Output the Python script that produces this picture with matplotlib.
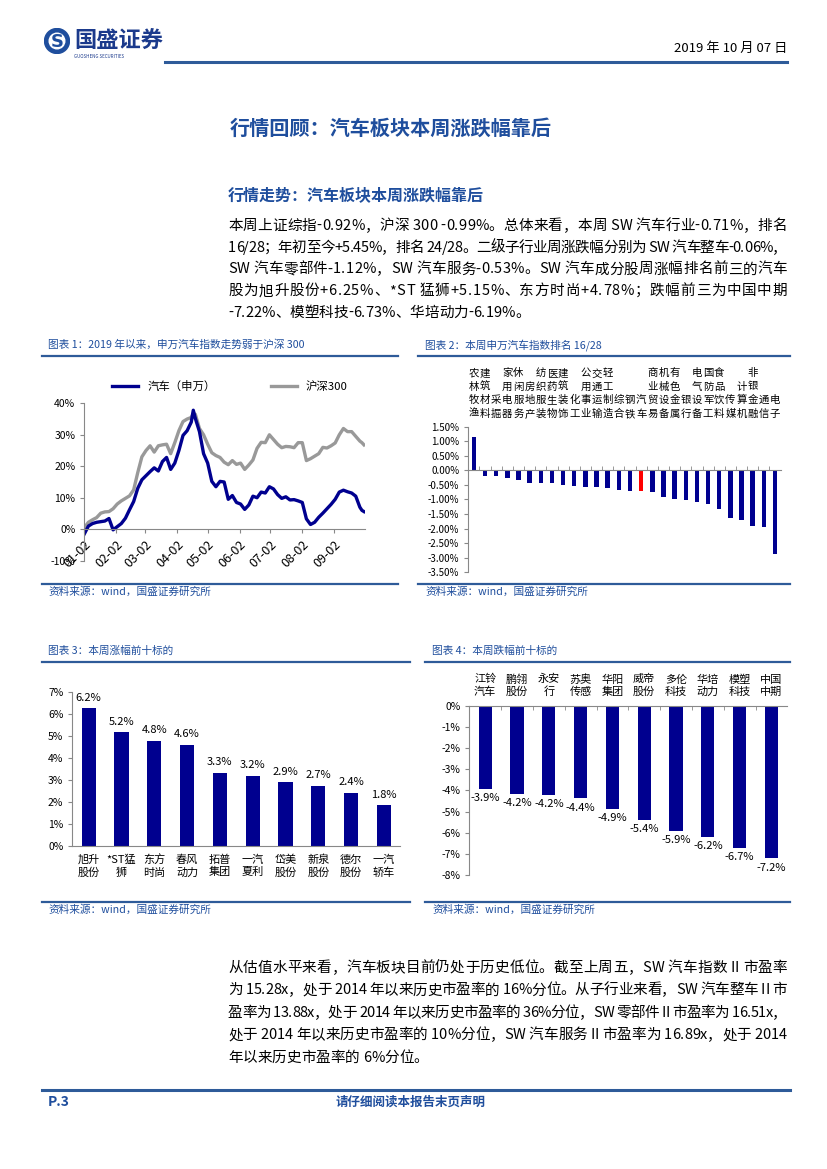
import matplotlib
matplotlib.use("Agg")
import matplotlib.pyplot as plt
import matplotlib.dates as mdates
import matplotlib.transforms as mtransforms
from matplotlib.lines import Line2D
from matplotlib.patches import Circle
from matplotlib.font_manager import FontProperties
import pandas as pd

plt.rcParams['font.family'] = ['Noto Sans CJK SC', 'DejaVu Sans']
plt.rcParams['axes.unicode_minus'] = False

# ---------------- data ----------------
# chart 1: index trend since 2019 (%)
dates = ['2019-01-02', '2019-01-06', '2019-01-10', '2019-01-14', '2019-01-18', '2019-01-22',
         '2019-01-26', '2019-01-30', '2019-02-03', '2019-02-07', '2019-02-11', '2019-02-15',
         '2019-02-19', '2019-02-23', '2019-02-27', '2019-03-03', '2019-03-07', '2019-03-11',
         '2019-03-15', '2019-03-19', '2019-03-23', '2019-03-27', '2019-03-31', '2019-04-04',
         '2019-04-08', '2019-04-12', '2019-04-16', '2019-04-18', '2019-04-20', '2019-04-24',
         '2019-04-28', '2019-05-02', '2019-05-06', '2019-05-10', '2019-05-14', '2019-05-18',
         '2019-05-22', '2019-05-26', '2019-05-30', '2019-06-03', '2019-06-07', '2019-06-11',
         '2019-06-15', '2019-06-19', '2019-06-23', '2019-06-27', '2019-07-01', '2019-07-05',
         '2019-07-09', '2019-07-13', '2019-07-17', '2019-07-21', '2019-07-25', '2019-07-29',
         '2019-08-02', '2019-08-06', '2019-08-10', '2019-08-14', '2019-08-18', '2019-08-22',
         '2019-08-26', '2019-08-30', '2019-09-03', '2019-09-07', '2019-09-11', '2019-09-15',
         '2019-09-19', '2019-09-23', '2019-09-27', '2019-09-29', '2019-10-01']
auto_sw = [-1.5, 1.0, 1.8, 2.2, 2.4, 2.6, 3.4, -0.2, 0.8, 1.8, 3.5, 6.2,
           8.8, 13.0, 15.7, 17.0, 18.3, 19.5, 18.5, 21.5, 22.8, 19.0, 21.0, 25.0,
           29.8, 31.3, 34.0, 37.8, 35.2, 31.0, 24.0, 21.0, 15.2, 13.5, 15.2, 15.0,
           9.5, 10.7, 8.5, 8.0, 6.3, 7.7, 10.5, 10.0, 11.8, 11.5, 13.5, 12.8,
           11.0, 9.8, 10.3, 9.3, 9.4, 9.0, 8.5, 3.3, 1.5, 2.2, 3.8, 5.1,
           6.5, 7.9, 9.5, 11.8, 12.4, 11.9, 11.5, 10.5, 7.0, 6.0, 5.6]
hs300 = [0.5, 2.2, 3.0, 3.7, 5.1, 5.5, 5.6, 6.5, 8.0, 9.0, 9.8, 10.6,
         12.5, 18.0, 23.0, 25.0, 26.5, 24.5, 26.5, 26.8, 27.0, 24.0, 27.5, 31.3,
         34.2, 35.0, 35.5, 36.8, 36.5, 32.0, 30.0, 27.0, 24.3, 23.4, 22.8, 21.3,
         20.5, 21.8, 20.6, 21.0, 19.0, 20.4, 22.0, 25.7, 27.6, 27.5, 30.0, 28.5,
         27.0, 25.9, 26.3, 26.2, 25.9, 27.5, 27.5, 21.8, 22.4, 23.2, 24.0, 26.0,
         25.8, 26.5, 27.4, 30.0, 32.0, 31.0, 31.0, 29.5, 28.0, 27.5, 26.8]
month_ticks = ['2019-01-02', '2019-02-02', '2019-03-02', '2019-04-02', '2019-05-02',
               '2019-06-02', '2019-07-02', '2019-08-02', '2019-09-02']

# chart 2: weekly change of SW industries (%)
industries = ['农林牧渔', '建筑材料', '采掘', '家用电器', '休闲服务', '房地产', '纺织服装',
              '医药生物', '建筑装饰', '化工', '公用事业', '交通运输', '轻工制造', '综合',
              '钢铁', '汽车', '商业贸易', '机械设备', '有色金属', '银行', '电气设备',
              '国防军工', '食品饮料', '传媒', '计算机', '非银金融', '通信', '电子']
industry_chg = [1.15, -0.18, -0.20, -0.27, -0.34, -0.42, -0.43, -0.44, -0.50, -0.55,
                -0.57, -0.57, -0.59, -0.68, -0.70, -0.71, -0.73, -0.90, -1.00, -1.01,
                -1.08, -1.15, -1.34, -1.64, -1.70, -1.91, -1.95, -2.86]
highlight = '汽车'

# chart 3: top 10 gainers (%)
gainers = ['旭升\n股份', '*ST猛\n狮', '东方\n时尚', '春风\n动力', '拓普\n集团',
           '一汽\n夏利', '岱美\n股份', '新泉\n股份', '德尔\n股份', '一汽\n轿车']
gainers_chg = [6.25, 5.15, 4.78, 4.58, 3.33, 3.19, 2.89, 2.72, 2.42, 1.84]

# chart 4: top 10 losers (%)
losers = ['江铃\n汽车', '鹏翎\n股份', '永安\n行', '苏奥\n传感', '华阳\n集团',
          '威帝\n股份', '多伦\n科技', '华培\n动力', '模塑\n科技', '中国\n中期']
losers_chg = [-3.92, -4.18, -4.21, -4.38, -4.88, -5.38, -5.93, -6.19, -6.73, -7.22]

para1 = ['本周上证综指-0.92%，沪深 300 -0.99%。总体来看，本周 SW 汽车行业-0.71%，排名',
         '16/28；年初至今+5.45%，排名 24/28。二级子行业周涨跌幅分别为 SW 汽车整车-0.06%，',
         'SW 汽车零部件-1.12%，SW 汽车服务-0.53%。SW 汽车成分股周涨幅排名前三的汽车',
         '股为旭升股份+6.25%、*ST 猛狮+5.15%、东方时尚+4.78%；跌幅前三为中国中期',
         '-7.22%、模塑科技-6.73%、华培动力-6.19%。']
para2 = ['从估值水平来看，汽车板块目前仍处于历史低位。截至上周五，SW 汽车指数 II 市盈率',
         '为 15.28x，处于 2014 年以来历史市盈率的 16%分位。从子行业来看，SW 汽车整车 II 市',
         '盈率为 13.88x，处于 2014 年以来历史市盈率的 36%分位，SW 零部件 II 市盈率为 16.51x，',
         '处于 2014 年以来历史市盈率的 10%分位，SW 汽车服务 II 市盈率为 16.89x，处于 2014',
         '年以来历史市盈率的 6%分位。']

# ---------------- page ----------------
W, H = 827, 1169
BAR = '#00008F'
HEAD = '#1F4E9D'
RULE = '#2E5B99'
AXC = '#888888'

fig = plt.figure(figsize=(W / 100, H / 100), dpi=100)
renderer = fig.canvas.get_renderer()


def px_axes(x0, y0, x1, y1):
    return fig.add_axes([x0 / W, 1 - y1 / H, (x1 - x0) / W, (y1 - y0) / H])


def ftext(x, y, s, **kw):
    return fig.text(x / W, 1 - y / H, s, **kw)


def hline(x0, x1, y, lw=1.6, color=RULE):
    fig.add_artist(Line2D([x0 / W, x1 / W], [1 - y / H, 1 - y / H], color=color, lw=lw))


def style_axes(ax):
    for s in ['top', 'right']:
        ax.spines[s].set_visible(False)
    for s in ['left', 'bottom']:
        ax.spines[s].set_color(AXC)
        ax.spines[s].set_linewidth(0.8)
    ax.tick_params(colors=AXC, labelcolor='black', width=0.8, length=3, labelsize=7.5)


def char_width(ch, prop):
    w2 = renderer.get_text_width_height_descent('|' + ch + '|', prop, ismath=False)[0]
    w0 = renderer.get_text_width_height_descent('||', prop, ismath=False)[0]
    return w2 - w0


def paragraph(lines, x0, x1, y0, step, size):
    # justified text, last line left aligned
    prop = FontProperties(family=['Noto Sans CJK SC', 'DejaVu Sans'], size=size)
    for k, line in enumerate(lines):
        widths = [char_width(ch, prop) for ch in line]
        if k < len(lines) - 1:
            gap = (x1 - x0 - sum(widths)) / (len(line) - 1)
        else:
            gap = 0
        x = x0
        y = y0 + k * step
        for ch, w in zip(line, widths):
            if ch != ' ':
                ftext(x, y, ch, fontproperties=prop, va='center')
            x += w + gap


# header
logo = px_axes(44, 28, 70, 54)
logo.set_xlim(0, 1)
logo.set_ylim(0, 1)
logo.set_aspect('equal')
logo.axis('off')
logo.add_patch(Circle((0.5, 0.5), 0.48, color='#1F4E9D'))
logo.add_patch(Circle((0.5, 0.5), 0.30, color='white'))
logo.text(0.5, 0.48, 'S', color='#1F4E9D', fontsize=13, fontweight='bold',
          ha='center', va='center', family='DejaVu Sans')
ftext(74, 41, '国盛证券', fontsize=16, fontweight='bold', color='#1B3A8C', va='center')
ftext(74, 56, 'GUOSHENG SECURITIES', fontsize=3.2, color='#1B3A8C', va='center')
ftext(787, 48, '2019 年 10 月 07 日', fontsize=9.5, ha='right', va='center')
hline(165, 787, 62, lw=2.2)

ftext(391, 128, '行情回顾：汽车板块本周涨跌幅靠后', fontsize=14.5, fontweight='bold',
      color=HEAD, ha='center', va='center')
ftext(228, 195, '行情走势：汽车板块本周涨跌幅靠后', fontsize=11.5, fontweight='bold',
      color=HEAD, va='center')
paragraph(para1, 228, 787, 226, 21.7, 10.5)
paragraph(para2, 228, 787, 968, 22.4, 10.5)

# captions / rules / sources
cap = dict(fontsize=7.7, color=HEAD, style='italic', va='center')
ftext(48, 345, '图表 1：2019 年以来，申万汽车指数走势弱于沪深 300', **cap)
ftext(425, 345, '图表 2：本周申万汽车指数排名 16/28', **cap)
ftext(48, 651, '图表 3：本周涨幅前十标的', **cap)
ftext(432, 651, '图表 4：本周跌幅前十标的', **cap)
hline(42, 398, 356)
hline(418, 790, 356)
hline(42, 410, 662)
hline(425, 790, 662)
hline(42, 398, 584)
hline(418, 790, 584)
hline(42, 410, 902)
hline(425, 790, 902)
for x, y in [(48, 592), (425, 592), (48, 910), (432, 910)]:
    ftext(x, y, '资料来源：wind，国盛证券研究所', **cap)

# footer
hline(42, 790, 1090, lw=2.2)
ftext(48, 1102, 'P.3', fontsize=10, fontweight='bold', style='italic', color=HEAD, va='center')
ftext(411, 1102, '请仔细阅读本报告末页声明', fontsize=9, fontweight='bold', style='italic',
      color=HEAD, ha='center', va='center')

# ---------------- chart 1 ----------------
ax1 = px_axes(84.3, 403.3, 365, 560.7)
style_axes(ax1)
d = pd.to_datetime(dates)
l_hs, = ax1.plot(d, hs300, color='#999999', lw=2.4, label='沪深300')
l_auto, = ax1.plot(d, auto_sw, color=BAR, lw=2.4, label='汽车（申万）')
ax1.set_ylim(-10, 40)
ax1.set_xlim(pd.Timestamp('2019-01-02'), pd.Timestamp('2019-10-02'))
ax1.set_yticks([-10, 0, 10, 20, 30, 40])
ax1.set_yticklabels([f'{v}%' for v in [-10, 0, 10, 20, 30, 40]])
ax1.spines['bottom'].set_position(('data', 0))
ax1.set_xticks(pd.to_datetime(month_ticks))
ax1.xaxis.set_major_formatter(mdates.DateFormatter('%m-%d'))
ax1.tick_params(axis='x', labelsize=9)
plt.setp(ax1.get_xticklabels(), rotation=45, ha='right', rotation_mode='anchor')
ax1.legend(handles=[l_auto, l_hs], ncol=2, loc='center', bbox_to_anchor=(0.519, 1.105),
           frameon=False, fontsize=8.2, handlelength=2.3, handletextpad=0.8,
           columnspacing=4.8)

# ---------------- chart 2 ----------------
ax2 = px_axes(468.3, 426.7, 780.6, 572.3)
style_axes(ax2)
cols = ['#FF0000' if n == highlight else BAR for n in industries]
ax2.bar(range(len(industries)), industry_chg, width=0.4, color=cols)
ax2.set_xlim(-0.5, len(industries) - 0.5)
ax2.set_ylim(-3.5, 1.5)
yt = [1.5, 1.0, 0.5, 0.0, -0.5, -1.0, -1.5, -2.0, -2.5, -3.0, -3.5]
ax2.set_yticks(yt)
ax2.set_yticklabels([f'{v:.2f}%' for v in yt], fontsize=7)
ax2.spines['bottom'].set_position(('data', 0))
ax2.set_xticks([])
ax2.set_xticks([i + 0.5 for i in range(len(industries) - 1)], minor=True)
ax2.tick_params(axis='x', which='minor', direction='in', length=3, colors=AXC)
tr = mtransforms.blended_transform_factory(ax2.transData, fig.transFigure)
rows_y = [373.3, 386.7, 400, 414]
for i, name in enumerate(industries):
    start = 4 - len(name)
    for j, ch in enumerate(name):
        ax2.text(i, 1 - rows_y[start + j] / H, ch, transform=tr, fontsize=7.5,
                 ha='center', va='center')

# ---------------- chart 3 ----------------
ax3 = px_axes(72.3, 691.7, 400.3, 846)
style_axes(ax3)
ax3.bar(range(len(gainers)), gainers_chg, width=0.43, color=BAR)
ax3.set_xlim(-0.5, len(gainers) - 0.5)
ax3.set_ylim(0, 7)
ax3.set_yticks(range(0, 8))
ax3.set_yticklabels([f'{v}%' for v in range(0, 8)])
ax3.set_xticks(range(len(gainers)))
ax3.set_xticklabels(gainers, fontsize=8, linespacing=1.3)
ax3.tick_params(axis='x', length=0, pad=6)
for i, v in enumerate(gainers_chg):
    ax3.annotate(f'{v:.1f}%', (i, v), xytext=(0, 4), textcoords='offset points',
                 ha='center', va='bottom', fontsize=8)

# ---------------- chart 4 ----------------
ax4 = px_axes(469.3, 705.7, 787.3, 875)
style_axes(ax4)
ax4.bar(range(len(losers)), losers_chg, width=0.42, color=BAR)
ax4.set_xlim(-0.5, len(losers) - 0.5)
ax4.set_ylim(-8, 0)
ax4.set_yticks(range(-8, 1))
ax4.set_yticklabels([f'{v}%' for v in range(-8, 1)])
ax4.spines['bottom'].set_visible(False)
ax4.spines['top'].set_visible(True)
ax4.spines['top'].set_color(AXC)
ax4.spines['top'].set_linewidth(0.8)
ax4.xaxis.tick_top()
ax4.set_xticks(range(len(losers)))
ax4.set_xticklabels(losers, fontsize=8, linespacing=1.3)
ax4.set_xticks([i + 0.5 for i in range(len(losers) - 1)], minor=True)
ax4.tick_params(axis='x', which='major', length=0, pad=6)
ax4.tick_params(axis='x', which='minor', direction='in', length=3, colors=AXC)
for i, v in enumerate(losers_chg):
    ax4.annotate(f'{v:.1f}%', (i, v), xytext=(0, -3), textcoords='offset points',
                 ha='center', va='top', fontsize=8)

fig.savefig('out.png', dpi=100)
